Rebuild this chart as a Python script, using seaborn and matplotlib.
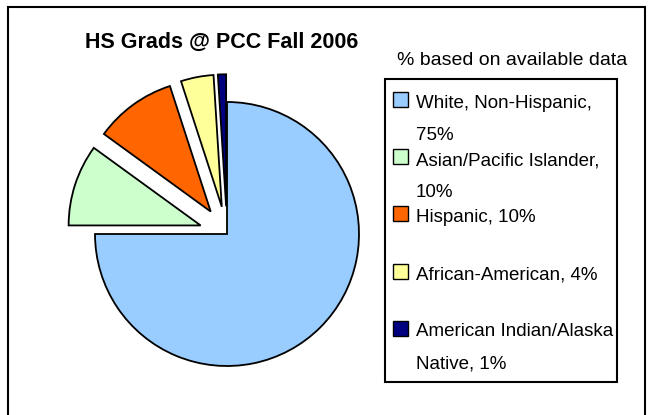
import matplotlib
matplotlib.use("Agg")
import matplotlib.pyplot as plt
from matplotlib import font_manager
from matplotlib.patches import Rectangle
import seaborn as sns

# data
groups = ["White, Non-Hispanic", "Asian/Pacific Islander", "Hispanic",
          "African-American", "American Indian/Alaska Native"]
percent = [75, 10, 10, 4, 1]
legend_lines = [["White, Non-Hispanic,", "75%"],
                ["Asian/Pacific Islander,", "10%"],
                ["Hispanic, 10%"],
                ["African-American, 4%"],
                ["American Indian/Alaska", "Native, 1%"]]
colors = ["#99CCFF", "#CCFFCC", "#FF6600", "#FFFF99", "#000080"]

sns.set_theme(style="white")
have_narrow = any(f.name == "Liberation Sans Narrow" for f in font_manager.fontManager.ttflist)
if have_narrow:
    plt.rcParams["font.family"] = ["Liberation Sans Narrow", "DejaVu Sans"]
    title_size, sub_size, leg_size = 17.5, 16, 15
else:
    plt.rcParams["font.family"] = ["Liberation Sans", "DejaVu Sans"]
    title_size, sub_size, leg_size = 15.5, 14, 13.5

W, H = 651, 415
fig = plt.figure(figsize=(W / 100, H / 100), dpi=100)
fig.patch.set_facecolor("white")
ax = fig.add_axes([0, 0, 1, 1])

# pie, in pixel-like data units
R = 132
explode = [0] + [0.21 * R] * 4
ax.pie(percent, colors=sns.color_palette(colors), startangle=90, counterclock=False,
       radius=R, center=(227, H - 234), explode=explode,
       wedgeprops=dict(edgecolor="black", linewidth=1.3))
ax.set_xlim(0, W)
ax.set_ylim(0, H)
ax.set_aspect("auto")
ax.axis("off")

# outer chart border (bottom runs off the image)
ax.add_patch(Rectangle((8, -20), 637, H - 7 + 20, fill=False, edgecolor="black",
                       linewidth=1.5, clip_on=False))

ax.text(222, H - 48, "HS Grads @ PCC Fall 2006", ha="center", va="baseline",
        fontsize=title_size, fontweight="bold", color="black")
ax.text(512, H - 65, "% based on available data", ha="center", va="baseline",
        fontsize=sub_size, color="black")

# legend box
ax.add_patch(Rectangle((385, H - 382), 232, 303, fill=False, edgecolor="black", linewidth=1.5))
for i, lines in enumerate(legend_lines):
    cy = 100 + i * 57
    ax.add_patch(Rectangle((393, H - cy - 7.5), 15, 15, facecolor=colors[i],
                           edgecolor="black", linewidth=1))
    for j, line in enumerate(lines):
        ax.text(416, H - (cy + 8 + j * 32), line, ha="left", va="baseline",
                fontsize=leg_size, color="black")

fig.savefig("out.png", dpi=100)
